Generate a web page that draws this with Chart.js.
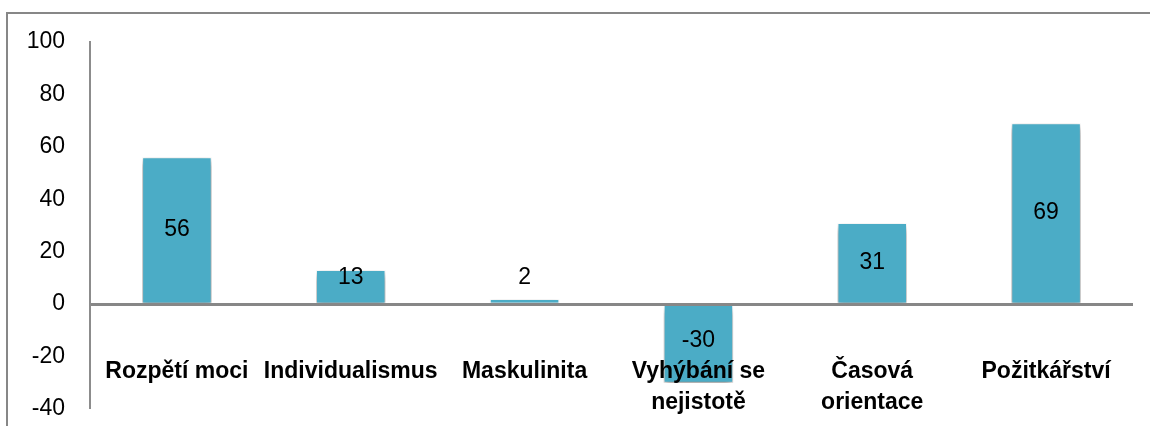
<!DOCTYPE html>
<html><head><meta charset="utf-8">
<script src="https://cdn.jsdelivr.net/npm/chart.js@4/dist/chart.umd.min.js"></script>
<style>
html,body{margin:0;padding:0;background:#fff;overflow:hidden}
#wrap{position:relative;width:1150px;height:426px}
#c{display:block}
#frame{position:absolute;left:6px;top:12px;width:1200px;height:500px;border-left:2px solid #878787;border-top:2px solid #878787;pointer-events:none}
</style></head><body>
<div id="wrap"><canvas id="c" width="1150" height="426"></canvas><div id="frame"></div></div>
<script>
const categories = [['Rozpětí moci'], ['Individualismus'], ['Maskulinita'], ['Vyhýbání se', 'nejistotě'], ['Časová', 'orientace'], ['Požitkářství']];
const values = [56, 13, 2, -30, 31, 69];
const yTicks = { min: -40, max: 100, step: 20 };

const FONT = '"Liberation Sans", Arial, sans-serif';

const barShadow = {
  id: 'barShadow',
  beforeDatasetDraw(chart) {
    const c = chart.ctx;
    c.save();
    c.shadowColor = 'rgba(0,0,0,0.5)';
    c.shadowBlur = 7;
    c.shadowOffsetX = 0;
    c.shadowOffsetY = 4;
  },
  afterDatasetDraw(chart) { chart.ctx.restore(); }
};

const valueLabels = {
  id: 'valueLabels',
  afterDatasetsDraw(chart) {
    const c = chart.ctx;
    const meta = chart.getDatasetMeta(0);
    c.save();
    c.font = '23px ' + FONT;
    c.fillStyle = '#000';
    c.textAlign = 'center';
    c.textBaseline = 'middle';
    meta.data.forEach((bar, i) => {
      const v = values[i];
      let y = (bar.y + bar.base) / 2;
      if (v >= 0 && bar.base - y < 25) y = bar.base - 25;
      if (v < 0) y -= 4;
      c.fillText(String(v), bar.x, y);
    });
    c.restore();
  }
};

new Chart(document.getElementById('c'), {
  type: 'bar',
  data: {
    labels: categories,
    datasets: [{
      data: values,
      backgroundColor: '#4BACC6',
      borderColor: 'rgba(255,255,255,0.95)',
      borderWidth: 1,
      barPercentage: 0.4,
      categoryPercentage: 1
    }]
  },
  options: {
    responsive: false,
    animation: false,
    devicePixelRatio: 1,
    layout: { padding: { left: 0, top: 42, right: 17, bottom: 0 } },
    plugins: { legend: { display: false }, tooltip: { enabled: false } },
    scales: {
      x: {
        grid: { display: false },
        border: { display: false },
        ticks: {
          z: 2,
          color: '#000',
          mirror: true,
          font: { family: FONT, size: 23, weight: 'bold', lineHeight: 1.35 },
          padding: 22,
          autoSkip: false,
          maxRotation: 0,
          minRotation: 0
        },
        afterFit(s) { s.height = 17; }
      },
      y: {
        min: yTicks.min,
        max: yTicks.max,
        border: { display: true, color: '#8c8c8c', width: 2, z: 1 },
        grid: {
          z: 1,
          drawTicks: false,
          color: ctx => ctx.tick && ctx.tick.value === 0 ? '#878787' : 'rgba(0,0,0,0)',
          lineWidth: ctx => ctx.tick && ctx.tick.value === 0 ? 3 : 0
        },
        ticks: {
          stepSize: yTicks.step,
          color: '#000',
          padding: 25,
          font: { family: FONT, size: 23 }
        },
        afterFit(s) { s.width = 90; s.paddingTop = 0; s.paddingBottom = 0; }
      }
    }
  },
  plugins: [barShadow, valueLabels]
});
</script>
</body></html>
